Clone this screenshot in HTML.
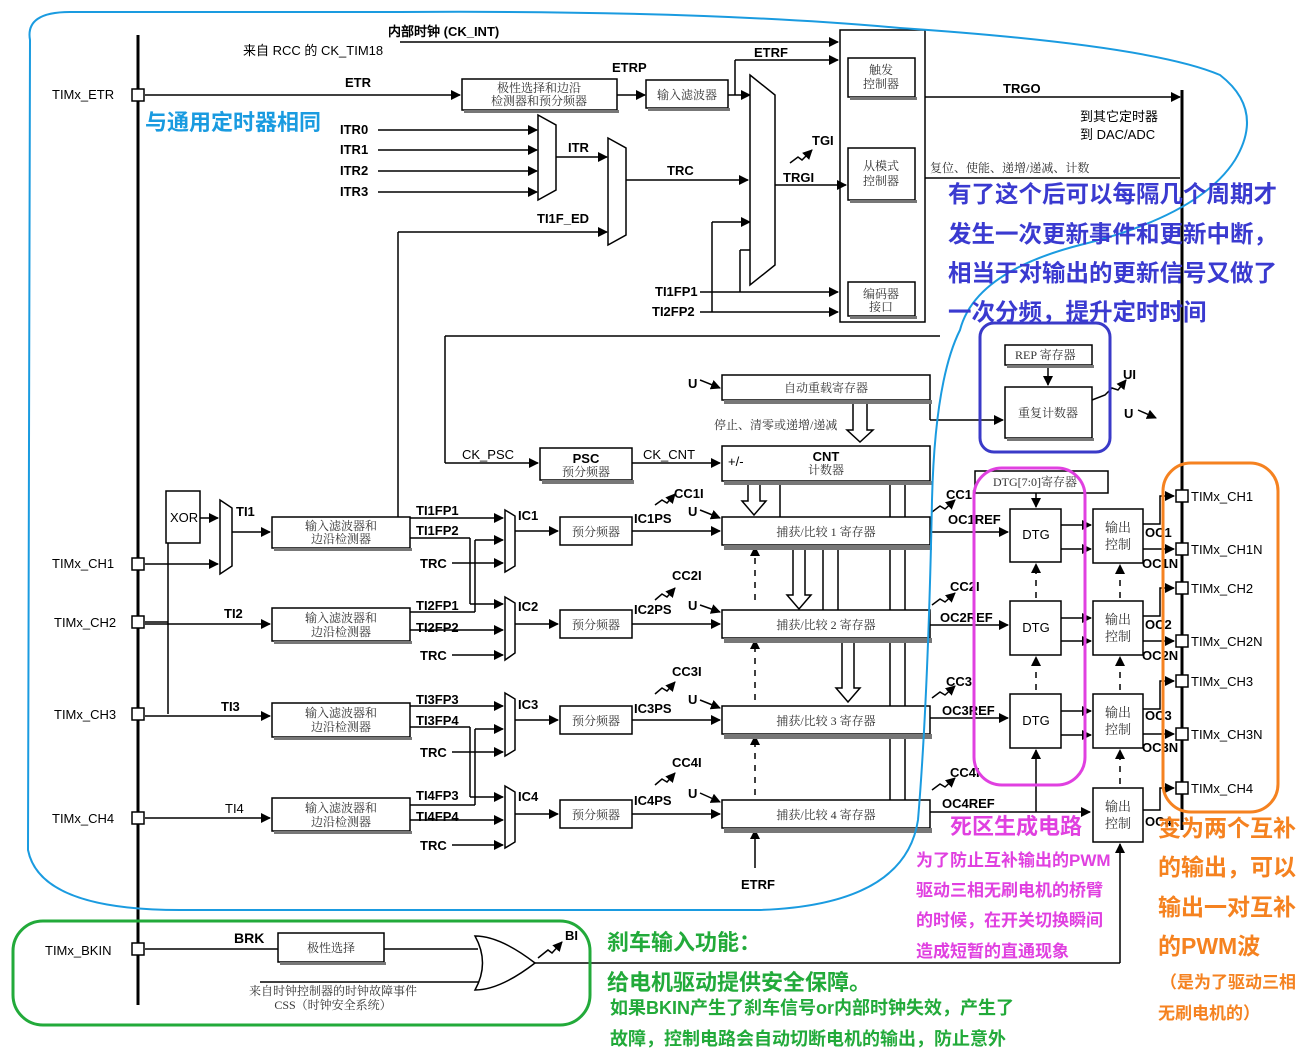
<!DOCTYPE html>
<html><head><meta charset="utf-8"><style>
html,body{margin:0;padding:0;background:#fff}
svg{display:block}
.b{font-family:"Liberation Sans",sans-serif;font-weight:bold;font-size:13px;fill:#000}
.n{font-family:"Liberation Sans",sans-serif;font-size:13px;fill:#000}
.c{font-family:"Liberation Serif","Noto Serif CJK SC",serif;font-size:12px;fill:#333}
.k{font-family:"Liberation Sans","Noto Sans CJK SC",sans-serif;font-weight:bold}
</style></head><body>
<svg width="1312" height="1052" viewBox="0 0 1312 1052" xmlns="http://www.w3.org/2000/svg">
<defs>
<marker id="a" markerWidth="10" markerHeight="10" refX="9" refY="5" orient="auto" markerUnits="userSpaceOnUse"><path d="M0,0 L10,5 L0,10 Z" fill="#000"/></marker>
</defs>
<g stroke="#000" stroke-width="1.5" fill="none">
<line x1="138" y1="35" x2="138" y2="1005" stroke-width="3"/>
<line x1="1182" y1="90" x2="1182" y2="830" stroke-width="3"/>
<line x1="400" y1="42" x2="838" y2="42" marker-end="url(#a)"/>
<line x1="145" y1="95" x2="460" y2="95" marker-end="url(#a)"/>
<line x1="617" y1="95" x2="645" y2="95" marker-end="url(#a)"/>
<line x1="728" y1="95" x2="750" y2="95" marker-end="url(#a)"/>
<line x1="735" y1="95" x2="735" y2="60"/>
<line x1="735" y1="60" x2="838" y2="60" marker-end="url(#a)"/>
<line x1="378" y1="130" x2="537" y2="130" marker-end="url(#a)"/>
<line x1="378" y1="150" x2="537" y2="150" marker-end="url(#a)"/>
<line x1="378" y1="171" x2="537" y2="171" marker-end="url(#a)"/>
<line x1="378" y1="192" x2="537" y2="192" marker-end="url(#a)"/>
<line x1="556" y1="157" x2="607" y2="157" marker-end="url(#a)"/>
<line x1="398" y1="232" x2="607" y2="232" marker-end="url(#a)"/>
<line x1="398" y1="232" x2="398" y2="517"/>
<line x1="626" y1="180" x2="748" y2="180" marker-end="url(#a)"/>
<line x1="775" y1="185" x2="846" y2="185" marker-end="url(#a)"/>
<line x1="740" y1="250" x2="750" y2="250"/>
<line x1="712" y1="222" x2="750" y2="222" marker-end="url(#a)"/>
<line x1="712" y1="222" x2="712" y2="312"/>
<line x1="740" y1="250" x2="740" y2="292"/>
<line x1="700" y1="292" x2="838" y2="292" marker-end="url(#a)"/>
<line x1="700" y1="312" x2="838" y2="312" marker-end="url(#a)"/>
<line x1="925" y1="97" x2="1180" y2="97" marker-end="url(#a)"/>
<line x1="925" y1="178" x2="1180" y2="178"/>
<rect x="840" y="30" width="85" height="292"/>
<rect x="848" y="58" width="67" height="39" fill="#fff"/>
<rect x="848" y="148" width="67" height="52" fill="#fff"/>
<rect x="848" y="282" width="67" height="34" fill="#fff"/>
<rect x="462" y="79" width="155" height="31" fill="#fff"/>
<rect x="646" y="80" width="82" height="28" fill="#fff"/>
<path d="M750,75 L775,95 L775,265 L750,285 Z" fill="#fff"/>
<path d="M538,115 L556,125 L556,190 L538,200 Z" fill="#fff"/>
<path d="M608,138 L626,148 L626,235 L608,245 Z" fill="#fff"/>
<line x1="445" y1="336" x2="940" y2="336"/>
<line x1="445" y1="336" x2="445" y2="463"/>
<line x1="445" y1="463" x2="538" y2="463" marker-end="url(#a)"/>
<line x1="632" y1="463" x2="720" y2="463" marker-end="url(#a)"/>
<rect x="540" y="448" width="92" height="32" fill="#fff"/>
<rect x="722" y="375" width="208" height="25" fill="#fff"/>
<rect x="722" y="446" width="208" height="35" fill="#fff"/>
<line x1="700" y1="380" x2="720" y2="388" marker-end="url(#a)"/>
<path d="M853,400 v30 h-6 l13,12 l13,-12 h-6 v-30" fill="#fff"/>
<line x1="930" y1="420" x2="1003" y2="420" marker-end="url(#a)"/>
<line x1="930" y1="420" x2="930" y2="400"/>
<rect x="1005" y="345" width="87" height="20" fill="#fff"/>
<rect x="1005" y="387" width="87" height="51" fill="#fff"/>
<line x1="1048" y1="365" x2="1048" y2="385" marker-end="url(#a)"/>
<polyline points="1092,400 1105,395 1112,388 1118,390 1126,380" marker-end="url(#a)"/>
<line x1="1138" y1="410" x2="1156" y2="418" marker-end="url(#a)"/>
<rect x="975" y="471" width="133" height="22" fill="#fff"/>
<path d="M748,481 v20 h-6 l12,14 l12,-14 h-6 v-20" fill="#fff"/>
<line x1="780" y1="481" x2="780" y2="517"/>
<line x1="905" y1="481" x2="905" y2="800"/>
<line x1="890" y1="481" x2="890" y2="800"/>
<path d="M793,545 v50 h-6 l12,14 l12,-14 h-6 v-50" fill="#fff"/>
<path d="M842,638 v50 h-6 l12,14 l12,-14 h-6 v-50" fill="#fff"/>
<line x1="823" y1="545" x2="823" y2="610"/>
<line x1="838" y1="545" x2="838" y2="610"/>
<line x1="755" y1="868" x2="755" y2="830" marker-end="url(#a)"/>
<line x1="755" y1="600" x2="755" y2="547" stroke-dasharray="6,6" marker-end="url(#a)"/>
<line x1="755" y1="700" x2="755" y2="640" stroke-dasharray="6,6" marker-end="url(#a)"/>
<line x1="755" y1="795" x2="755" y2="736" stroke-dasharray="6,6" marker-end="url(#a)"/>
<line x1="145" y1="564" x2="218" y2="564" marker-end="url(#a)"/>
<line x1="168" y1="518" x2="168" y2="714"/>
<line x1="168" y1="622" x2="145" y2="622"/>
<rect x="166" y="491" width="34" height="52" fill="#fff"/>
<line x1="200" y1="518" x2="218" y2="518" marker-end="url(#a)"/>
<path d="M220,500 L232,508 L232,566 L220,574 Z" fill="#fff"/>
<line x1="232" y1="532" x2="270" y2="532" marker-end="url(#a)"/>
<line x1="145" y1="624" x2="270" y2="624" marker-end="url(#a)"/>
<line x1="145" y1="716" x2="270" y2="716" marker-end="url(#a)"/>
<line x1="145" y1="818" x2="270" y2="818" marker-end="url(#a)"/>
<rect x="272" y="517" width="138" height="31" fill="#fff"/>
<rect x="272" y="608" width="138" height="33" fill="#fff"/>
<rect x="272" y="703" width="138" height="34" fill="#fff"/>
<rect x="272" y="798" width="138" height="33" fill="#fff"/>
<line x1="410" y1="518" x2="503" y2="518" marker-end="url(#a)"/>
<line x1="410" y1="538" x2="470" y2="538"/><line x1="470" y1="538" x2="470" y2="604"/><line x1="470" y1="604" x2="503" y2="604" marker-end="url(#a)"/>
<line x1="452" y1="563" x2="503" y2="563" marker-end="url(#a)"/>
<line x1="475" y1="540" x2="503" y2="540" marker-end="url(#a)"/><line x1="475" y1="540" x2="475" y2="612"/><line x1="410" y1="612" x2="475" y2="612"/>
<line x1="410" y1="630" x2="503" y2="630" marker-end="url(#a)"/>
<line x1="452" y1="655" x2="503" y2="655" marker-end="url(#a)"/>
<line x1="410" y1="706" x2="503" y2="706" marker-end="url(#a)"/>
<line x1="410" y1="727" x2="470" y2="727"/><line x1="470" y1="727" x2="470" y2="797"/><line x1="470" y1="797" x2="503" y2="797" marker-end="url(#a)"/>
<line x1="452" y1="752" x2="503" y2="752" marker-end="url(#a)"/>
<line x1="475" y1="729" x2="503" y2="729" marker-end="url(#a)"/><line x1="475" y1="729" x2="475" y2="805"/><line x1="410" y1="805" x2="475" y2="805"/>
<line x1="410" y1="820" x2="503" y2="820" marker-end="url(#a)"/>
<line x1="452" y1="845" x2="503" y2="845" marker-end="url(#a)"/>
<path d="M505,510 L515,516 L515,566 L505,572 Z" fill="#fff"/>
<path d="M505,597 L515,603 L515,653 L505,660 Z" fill="#fff"/>
<path d="M505,693 L515,699 L515,750 L505,756 Z" fill="#fff"/>
<path d="M505,786 L515,792 L515,842 L505,848 Z" fill="#fff"/>
<line x1="515" y1="531" x2="558" y2="531" marker-end="url(#a)"/>
<line x1="515" y1="624" x2="558" y2="624" marker-end="url(#a)"/>
<line x1="515" y1="720" x2="558" y2="720" marker-end="url(#a)"/>
<line x1="515" y1="814" x2="558" y2="814" marker-end="url(#a)"/>
<rect x="560" y="517" width="72" height="28" fill="#fff"/>
<rect x="560" y="610" width="72" height="28" fill="#fff"/>
<rect x="560" y="706" width="72" height="28" fill="#fff"/>
<rect x="560" y="800" width="72" height="28" fill="#fff"/>
<line x1="632" y1="531" x2="720" y2="531" marker-end="url(#a)"/>
<line x1="632" y1="624" x2="720" y2="624" marker-end="url(#a)"/>
<line x1="632" y1="720" x2="720" y2="720" marker-end="url(#a)"/>
<line x1="632" y1="814" x2="720" y2="814" marker-end="url(#a)"/>
<rect x="722" y="517" width="208" height="28" fill="#fff"/>
<rect x="722" y="610" width="208" height="28" fill="#fff"/>
<rect x="722" y="706" width="208" height="28" fill="#fff"/>
<rect x="722" y="800" width="208" height="28" fill="#fff"/>
<g><polyline points="655,505 662,500 667,503 675,494" marker-end="url(#a)"/><line x1="700" y1="510" x2="720" y2="518" marker-end="url(#a)"/>
<polyline points="655,600 662,594 667,597 675,588" marker-end="url(#a)"/><line x1="700" y1="605" x2="720" y2="612" marker-end="url(#a)"/>
<polyline points="655,694 662,688 667,691 675,682" marker-end="url(#a)"/><line x1="700" y1="700" x2="720" y2="708" marker-end="url(#a)"/>
<polyline points="655,785 662,779 667,782 675,773" marker-end="url(#a)"/><line x1="700" y1="793" x2="720" y2="802" marker-end="url(#a)"/></g>
<line x1="930" y1="532" x2="1008" y2="532" marker-end="url(#a)"/>
<line x1="930" y1="625" x2="1008" y2="625" marker-end="url(#a)"/>
<line x1="930" y1="718" x2="1008" y2="718" marker-end="url(#a)"/>
<line x1="930" y1="812" x2="1090" y2="812" marker-end="url(#a)"/>
<polyline points="932,512 940,506 945,509 955,500" marker-end="url(#a)"/>
<polyline points="932,605 940,599 945,602 955,593" marker-end="url(#a)"/>
<polyline points="932,698 940,692 945,695 955,686" marker-end="url(#a)"/>
<polyline points="932,790 940,784 945,787 955,778" marker-end="url(#a)"/>
<line x1="1036" y1="493" x2="1036" y2="507" marker-end="url(#a)"/>
<rect x="1010" y="509" width="51" height="53" fill="#fff"/>
<rect x="1010" y="601" width="51" height="54" fill="#fff"/>
<rect x="1010" y="694" width="51" height="54" fill="#fff"/>
<line x1="1036" y1="598" x2="1036" y2="564" stroke-dasharray="6,6" marker-end="url(#a)"/>
<line x1="1036" y1="690" x2="1036" y2="657" stroke-dasharray="6,6" marker-end="url(#a)"/>
<line x1="1036" y1="812" x2="1036" y2="750" marker-end="url(#a)"/>
<line x1="1061" y1="525" x2="1091" y2="525" marker-end="url(#a)"/><line x1="1061" y1="549" x2="1091" y2="549" marker-end="url(#a)"/>
<line x1="1061" y1="618" x2="1091" y2="618" marker-end="url(#a)"/><line x1="1061" y1="641" x2="1091" y2="641" marker-end="url(#a)"/>
<line x1="1061" y1="711" x2="1091" y2="711" marker-end="url(#a)"/><line x1="1061" y1="735" x2="1091" y2="735" marker-end="url(#a)"/>
<rect x="1093" y="509" width="50" height="54" fill="#fff"/>
<rect x="1093" y="601" width="50" height="54" fill="#fff"/>
<rect x="1093" y="694" width="50" height="54" fill="#fff"/>
<rect x="1093" y="788" width="50" height="54" fill="#fff"/>
<line x1="1120" y1="598" x2="1120" y2="565" stroke-dasharray="6,6" marker-end="url(#a)"/>
<line x1="1120" y1="690" x2="1120" y2="657" stroke-dasharray="6,6" marker-end="url(#a)"/>
<line x1="1120" y1="784" x2="1120" y2="750" stroke-dasharray="6,6" marker-end="url(#a)"/>
<polyline points="1143,524 1160,524 1160,496 1174,496" marker-end="url(#a)"/><line x1="1143" y1="549" x2="1174" y2="549" marker-end="url(#a)"/>
<polyline points="1143,616 1160,616 1160,588 1174,588" marker-end="url(#a)"/><line x1="1143" y1="641" x2="1174" y2="641" marker-end="url(#a)"/>
<polyline points="1143,709 1160,709 1160,681 1174,681" marker-end="url(#a)"/><line x1="1143" y1="734" x2="1174" y2="734" marker-end="url(#a)"/>
<polyline points="1143,810 1160,810 1160,788 1174,788" marker-end="url(#a)"/>
<line x1="145" y1="949" x2="478" y2="949"/>
<rect x="278" y="933" width="106" height="29" fill="#fff"/>
<line x1="260" y1="982" x2="485" y2="982"/>
<path d="M475,936 Q500,936 535,963 Q500,990 475,990 Q490,963 475,936 Z" fill="#fff"/>
<line x1="535" y1="963" x2="1120" y2="963"/>
<line x1="1120" y1="963" x2="1120" y2="844" marker-end="url(#a)"/>
<polyline points="538,958 548,950 552,953 562,942" marker-end="url(#a)"/>
</g>
<g fill="#777">
<rect x="850" y="97" width="67" height="3"/><rect x="850" y="200" width="67" height="3"/><rect x="850" y="316" width="67" height="3"/>
<rect x="464" y="110" width="155" height="3"/><rect x="648" y="108" width="82" height="3"/>
<rect x="724" y="400" width="208" height="4"/><rect x="542" y="480" width="92" height="4"/><rect x="724" y="481" width="208" height="4"/>
<rect x="724" y="545" width="208" height="5"/><rect x="724" y="638" width="208" height="5"/><rect x="724" y="734" width="208" height="5"/><rect x="724" y="828" width="208" height="5"/>
<rect x="274" y="548" width="138" height="3"/><rect x="274" y="641" width="138" height="3"/><rect x="274" y="737" width="138" height="3"/><rect x="274" y="831" width="138" height="3"/>
<rect x="1007" y="365" width="87" height="3"/><rect x="1007" y="438" width="87" height="3"/><rect x="280" y="962" width="106" height="3"/>
</g>
<g fill="#fff" stroke="#000" stroke-width="1.5">
<rect x="132" y="89" width="12" height="12"/><rect x="132" y="558" width="12" height="12"/><rect x="132" y="616" width="12" height="12"/><rect x="132" y="708" width="12" height="12"/><rect x="132" y="812" width="12" height="12"/><rect x="132" y="943" width="12" height="12"/>
<rect x="1176" y="490" width="12" height="12"/><rect x="1176" y="543" width="12" height="12"/><rect x="1176" y="582" width="12" height="12"/><rect x="1176" y="635" width="12" height="12"/><rect x="1176" y="675" width="12" height="12"/><rect x="1176" y="728" width="12" height="12"/><rect x="1176" y="782" width="12" height="12"/>
</g>
<text class="b" x="388" y="36" font-size="12">内部时钟 (CK_INT)</text>
<text class="n" x="243" y="55">来自 RCC 的 CK_TIM18</text>
<text class="n" x="52" y="99">TIMx_ETR</text>
<text class="b" x="345" y="87" font-size="12">ETR</text>
<text class="b" x="612" y="72" font-size="12">ETRP</text>
<text class="b" x="754" y="57" font-size="12">ETRF</text>
<text class="c" x="539" y="92" text-anchor="middle">极性选择和边沿</text><text class="c" x="539" y="105" text-anchor="middle">检测器和预分频器</text>
<text class="c" x="687" y="99" text-anchor="middle">输入滤波器</text>
<text class="c" x="881" y="74" text-anchor="middle">触发</text><text class="c" x="881" y="88" text-anchor="middle">控制器</text>
<text class="c" x="881" y="170" text-anchor="middle">从模式</text><text class="c" x="881" y="185" text-anchor="middle">控制器</text>
<text class="c" x="881" y="298" text-anchor="middle">编码器</text><text class="c" x="881" y="311" text-anchor="middle">接口</text>
<text class="b" x="1003" y="93" font-size="12">TRGO</text>
<text class="n" x="1080" y="121">到其它定时器</text><text class="n" x="1080" y="139">到 DAC/ADC</text>
<text class="c" x="930" y="172">复位、使能、递增/递减、计数</text>
<text class="b" x="340" y="134" font-size="12">ITR0</text><text class="b" x="340" y="154" font-size="12">ITR1</text><text class="b" x="340" y="175" font-size="12">ITR2</text><text class="b" x="340" y="196" font-size="12">ITR3</text>
<text class="b" x="568" y="152" font-size="12">ITR</text>
<text class="b" x="667" y="175" font-size="12">TRC</text>
<text class="b" x="537" y="223" font-size="12">TI1F_ED</text>
<text class="b" x="812" y="145" font-size="12">TGI</text>
<polyline points="790,163 798,157 802,160 812,150" stroke="#000" fill="none" stroke-width="1.5" marker-end="url(#a)"/>
<text class="b" x="783" y="182" font-size="12">TRGI</text>
<text class="b" x="655" y="296" font-size="12">TI1FP1</text><text class="b" x="652" y="316" font-size="12">TI2FP2</text>
<text class="b" x="688" y="388" font-size="12">U</text>
<text class="c" x="826" y="392" text-anchor="middle">自动重载寄存器</text>
<text class="c" x="714" y="429">停止、清零或递增/递减</text>
<text class="n" x="462" y="459">CK_PSC</text><text class="n" x="643" y="459">CK_CNT</text>
<text class="b" x="586" y="463" text-anchor="middle" font-size="14">PSC</text><text class="c" x="586" y="476" text-anchor="middle" font-size="11">预分频器</text>
<text class="b" x="826" y="461" text-anchor="middle" font-size="14">CNT</text><text class="c" x="826" y="474" text-anchor="middle" font-size="11">计数器</text>
<text class="n" x="728" y="466" font-size="11">+/-</text>
<text class="c" x="1015" y="359">REP 寄存器</text>
<text class="c" x="1048" y="417" text-anchor="middle">重复计数器</text>
<text class="b" x="1123" y="379" font-size="12">UI</text><text class="b" x="1124" y="418" font-size="12">U</text>
<text class="c" x="993" y="486">DTG[7:0]寄存器</text>
<text class="n" x="170" y="522" font-size="12">XOR</text>
<text class="b" x="236" y="516">TI1</text><text class="b" x="224" y="618">TI2</text><text class="b" x="221" y="711">TI3</text><text class="n" x="225" y="813">TI4</text>
<text class="n" x="52" y="568">TIMx_CH1</text><text class="n" x="54" y="627">TIMx_CH2</text><text class="n" x="54" y="719">TIMx_CH3</text><text class="n" x="52" y="823">TIMx_CH4</text>
<g class="c"><text x="341" y="530" text-anchor="middle">输入滤波器和</text><text x="341" y="543" text-anchor="middle">边沿检测器</text>
<text x="341" y="622" text-anchor="middle">输入滤波器和</text><text x="341" y="636" text-anchor="middle">边沿检测器</text>
<text x="341" y="717" text-anchor="middle">输入滤波器和</text><text x="341" y="731" text-anchor="middle">边沿检测器</text>
<text x="341" y="812" text-anchor="middle">输入滤波器和</text><text x="341" y="826" text-anchor="middle">边沿检测器</text>
<text x="596" y="536" text-anchor="middle">预分频器</text><text x="596" y="629" text-anchor="middle">预分频器</text><text x="596" y="725" text-anchor="middle">预分频器</text><text x="596" y="819" text-anchor="middle">预分频器</text>
<text x="826" y="536" text-anchor="middle">捕获/比较 1 寄存器</text><text x="826" y="629" text-anchor="middle">捕获/比较 2 寄存器</text><text x="826" y="725" text-anchor="middle">捕获/比较 3 寄存器</text><text x="826" y="819" text-anchor="middle">捕获/比较 4 寄存器</text>
<text x="1118" y="532" text-anchor="middle" font-size="13">输出</text><text x="1118" y="549" text-anchor="middle" font-size="13">控制</text>
<text x="1118" y="624" text-anchor="middle" font-size="13">输出</text><text x="1118" y="641" text-anchor="middle" font-size="13">控制</text>
<text x="1118" y="717" text-anchor="middle" font-size="13">输出</text><text x="1118" y="734" text-anchor="middle" font-size="13">控制</text>
<text x="1118" y="811" text-anchor="middle" font-size="13">输出</text><text x="1118" y="828" text-anchor="middle" font-size="13">控制</text>
<text x="331" y="952" text-anchor="middle">极性选择</text>
<text x="333" y="995" text-anchor="middle">来自时钟控制器的时钟故障事件</text><text x="333" y="1009" text-anchor="middle">CSS（时钟安全系统）</text></g>
<g class="b" font-size="14"><text x="416" y="515">TI1FP1</text><text x="416" y="535">TI1FP2</text><text x="420" y="568">TRC</text><text x="518" y="520">IC1</text><text x="634" y="523">IC1PS</text>
<text x="416" y="610">TI2FP1</text><text x="416" y="632">TI2FP2</text><text x="420" y="660">TRC</text><text x="518" y="611">IC2</text><text x="634" y="614">IC2PS</text>
<text x="416" y="704">TI3FP3</text><text x="416" y="725">TI3FP4</text><text x="420" y="757">TRC</text><text x="518" y="709">IC3</text><text x="634" y="713">IC3PS</text>
<text x="416" y="800">TI4FP3</text><text x="416" y="821">TI4FP4</text><text x="420" y="850">TRC</text><text x="518" y="801">IC4</text><text x="634" y="805">IC4PS</text></g>
<g class="b" font-size="12"><text x="674" y="498">CC1I</text><text x="688" y="516">U</text><text x="672" y="580">CC2I</text><text x="688" y="610">U</text><text x="672" y="676">CC3I</text><text x="688" y="704">U</text><text x="672" y="767">CC4I</text><text x="688" y="798">U</text>
<text x="946" y="499">CC1I</text><text x="948" y="524">OC1REF</text><text x="950" y="591">CC2I</text><text x="940" y="622">OC2REF</text><text x="946" y="686">CC3I</text><text x="942" y="715">OC3REF</text><text x="950" y="777">CC4I</text><text x="942" y="808">OC4REF</text>
<text x="1145" y="537">OC1</text><text x="1142" y="568">OC1N</text><text x="1145" y="629">OC2</text><text x="1142" y="660">OC2N</text><text x="1145" y="720">OC3</text><text x="1142" y="752">OC3N</text><text x="1145" y="826">OC4</text>
<text x="741" y="889">ETRF</text><text x="234" y="943" font-size="14">BRK</text><text x="565" y="940">BI</text></g>
<g class="n"><text x="1036" y="539" text-anchor="middle">DTG</text><text x="1036" y="632" text-anchor="middle">DTG</text><text x="1036" y="725" text-anchor="middle">DTG</text>
<text x="1191" y="501">TIMx_CH1</text><text x="1191" y="554">TIMx_CH1N</text><text x="1191" y="593">TIMx_CH2</text><text x="1191" y="646">TIMx_CH2N</text><text x="1191" y="686">TIMx_CH3</text><text x="1191" y="739">TIMx_CH3N</text><text x="1191" y="793">TIMx_CH4</text>
<text x="45" y="955">TIMx_BKIN</text></g>
<path d="M30,40 Q25,12 70,12 L400,12 Q700,10 900,28 Q1150,45 1220,75 Q1265,110 1235,160 Q1200,215 1080,245 Q975,272 960,330 Q935,380 932,500 Q928,700 918,820 Q905,905 760,910 L180,910 Q40,910 28,850 Z" fill="none" stroke="#1a9be0" stroke-width="2"/>
<rect x="980" y="323" width="130" height="129" rx="14" fill="none" stroke="#3a3ac8" stroke-width="3"/>
<rect x="974" y="468" width="111" height="317" rx="28" fill="none" stroke="#e040e0" stroke-width="3"/>
<rect x="1163" y="463" width="115" height="349" rx="28" fill="none" stroke="#f58220" stroke-width="3"/>
<rect x="13" y="921" width="577" height="104" rx="30" fill="none" stroke="#22aa3a" stroke-width="3"/>
<text class="k" x="145" y="130" font-size="22" fill="#1a9be0">与通用定时器相同</text>
<g class="k" font-size="23.5" fill="#3a3ad0"><text x="948" y="202">有了这个后可以每隔几个周期才</text><text x="948" y="242">发生一次更新事件和更新中断，</text><text x="948" y="281">相当于对输出的更新信号又做了</text><text x="948" y="320">一次分频，提升定时时间</text></g>
<text class="k" x="950" y="834" font-size="22" fill="#e040e0">死区生成电路</text>
<g class="k" font-size="17" fill="#e040e0"><text x="916" y="866">为了防止互补输出的PWM</text><text x="916" y="896">驱动三相无刷电机的桥臂</text><text x="916" y="926">的时候，在开关切换瞬间</text><text x="916" y="957">造成短暂的直通现象</text></g>
<g class="k" font-size="23" fill="#f58220"><text x="1158" y="836">变为两个互补</text><text x="1158" y="875">的输出，可以</text><text x="1158" y="915">输出一对互补</text><text x="1158" y="954">的PWM波</text>
<text x="1160" y="988" font-size="17">（是为了驱动三相</text><text x="1158" y="1019" font-size="17">无刷电机的）</text></g>
<g class="k" fill="#22aa3a"><text x="607" y="950" font-size="22">刹车输入功能：</text><text x="607" y="990" font-size="22">给电机驱动提供安全保障。</text>
<text x="610" y="1014" font-size="18">如果BKIN产生了刹车信号or内部时钟失效，产生了</text><text x="610" y="1045" font-size="18">故障，控制电路会自动切断电机的输出，防止意外</text></g>
</svg>
</body></html>
